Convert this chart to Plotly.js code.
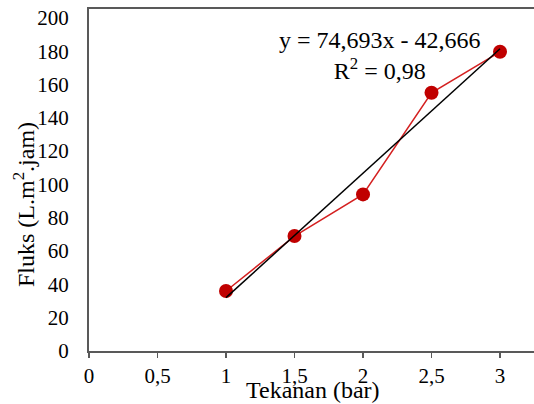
<!DOCTYPE html>
<html>
<head>
<meta charset="utf-8">
<script src="https://cdn.plot.ly/plotly-3.0.1.min.js"></script>
<style>html,body{margin:0;padding:0;background:#fff;}#chart{width:534px;height:404px;}</style>
</head>
<body>
<div id="chart"></div>
<script>
const pressure = [1, 1.5, 2, 2.5, 3];
const flux = [36, 69, 94, 155, 179.6];
const slope = 74.693;
const intercept = -42.666;
const trendX = [1, 3];
const trendY = trendX.map(x => slope * x + intercept);
const xTicks = [0, 0.5, 1, 1.5, 2, 2.5, 3];
const yTicks = [0, 20, 40, 60, 80, 100, 120, 140, 160, 180, 200];

const font = 'Liberation Serif';
const axisColor = '#595959';

const traces = [
  {
    x: pressure, y: flux, type: 'scatter', mode: 'lines+markers',
    line: {color: '#D42020', width: 1.5},
    marker: {color: '#C00000', size: 14},
    hoverinfo: 'none'
  },
  {
    x: trendX, y: trendY, type: 'scatter', mode: 'lines',
    line: {color: '#000000', width: 1.5},
    hoverinfo: 'none'
  }
];

const layout = {
  width: 534, height: 404,
  margin: {l: 89, r: 0, t: 9, b: 53},
  showlegend: false,
  paper_bgcolor: '#ffffff', plot_bgcolor: '#ffffff',
  separators: ', ',
  font: {family: font, size: 21, color: '#000'},
  xaxis: {
    range: [0, 3.248], tickvals: xTicks,
    showgrid: false, zeroline: false,
    showline: true, linecolor: axisColor, linewidth: 2, mirror: true,
    ticks: 'outside', ticklen: 5, tickwidth: 1.5, tickcolor: axisColor,
    tickfont: {family: font, size: 21, color: '#000'}
  },
  yaxis: {
    range: [0, 205.3], tickvals: yTicks,
    showgrid: false, zeroline: false,
    showline: true, linecolor: axisColor, linewidth: 2,
    ticks: '', ticklabelstandoff: 14,
    tickfont: {family: font, size: 21, color: '#000'}
  },
  annotations: [
    {
      xref: 'paper', yref: 'paper', x: -0.146, y: 0.427,
      text: 'Fluks (L.m<sup>2</sup>.jam)', textangle: -90, showarrow: false,
      font: {family: font, size: 24, color: '#000'}, xanchor: 'center', yanchor: 'middle'
    },
    {
      xref: 'paper', yref: 'paper', x: 0.504, y: -0.114,
      text: 'Tekanan (bar)', showarrow: false,
      font: {family: font, size: 24, color: '#000'}, xanchor: 'center', yanchor: 'middle'
    },
    {
      xref: 'paper', yref: 'paper', x: 0.654, y: 0.865,
      text: 'y = 74,693x - 42,666<br>R<sup>2</sup> = 0,98', showarrow: false,
      align: 'center',
      font: {family: font, size: 24, color: '#000'}, xanchor: 'center', yanchor: 'middle'
    }
  ]
};

Plotly.newPlot('chart', traces, layout, {staticPlot: true, displayModeBar: false});
</script>
</body>
</html>
